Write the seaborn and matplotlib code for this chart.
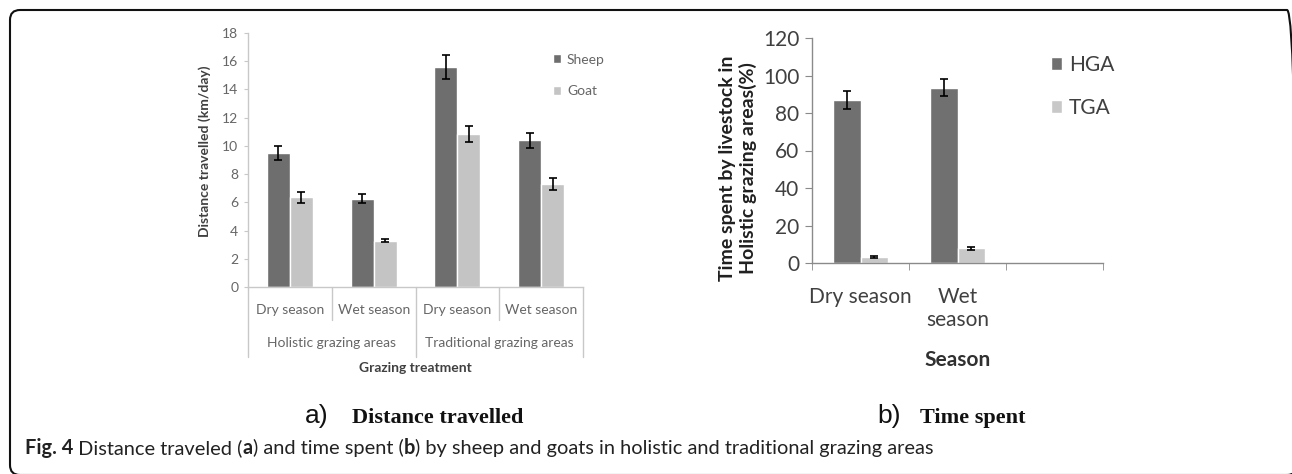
import pandas as pd
import matplotlib
matplotlib.use("Agg")
import matplotlib.pyplot as plt
from matplotlib.patches import FancyBboxPatch
from matplotlib.transforms import IdentityTransform
import seaborn as sns

# panel a data: distance travelled (km/day)
cells_a = ["HGA dry", "HGA wet", "TGA dry", "TGA wet"]
season_labels_a = ["Dry season", "Wet season", "Dry season", "Wet season"]
area_labels_a = ["Holistic grazing areas", "Traditional grazing areas"]
sheep_km = [9.5, 6.25, 15.6, 10.4]
sheep_err = [0.52, 0.32, 0.85, 0.53]
goat_km = [6.36, 3.28, 10.85, 7.3]
goat_err = [0.39, 0.12, 0.55, 0.4]

# panel b data: time spent (%)
seasons_b = ["Dry season", "Wet\nseason"]
hga_pct = [87, 93.5]
hga_err = [4.7, 4.6]
tga_pct = [3.4, 7.8]
tga_err = [0.6, 0.8]

sns.set_style("ticks")
plt.rcParams["font.family"] = ["Lato", "DejaVu Sans"]

W, H = 1292, 474
fig = plt.figure(figsize=(W / 100, H / 100), dpi=100)
fig.patch.set_facecolor("white")


def add_errbars(ax, errs_list):
    for cont, errs in zip(ax.containers, errs_list):
        xs = [b.get_x() + b.get_width() / 2 for b in cont]
        ys = [b.get_height() for b in cont]
        ax.errorbar(xs, ys, yerr=errs, fmt="none", ecolor="black",
                    elinewidth=1.2, capsize=3, capthick=1.2)


# ---------------- panel a ----------------
ax1 = fig.add_axes([248 / W, 1 - 287 / H, (583 - 248) / W, (287 - 33) / H])
df_a = pd.DataFrame({
    "cell": cells_a * 2,
    "km": sheep_km + goat_km,
    "animal": ["Sheep"] * 4 + ["Goat"] * 4,
})
sns.barplot(data=df_a, x="cell", y="km", hue="animal", order=cells_a,
            hue_order=["Sheep", "Goat"], palette=["#6e6e6e", "#c4c4c4"],
            width=0.55, saturation=1, errorbar=None, ax=ax1)
add_errbars(ax1, [sheep_err, goat_err])

ax1.set_xlim(-0.5, 3.5)
ax1.set_ylim(0, 18)
ax1.set_yticks(range(0, 19, 2))
sns.despine(ax=ax1)
for s in ["left", "bottom"]:
    ax1.spines[s].set_color("#c8c8c8")
    ax1.spines[s].set_linewidth(1)
ax1.tick_params(axis="y", length=3, color="#c8c8c8", labelsize=10,
                labelcolor="#666666", pad=4)
ax1.set_xticks(range(4))
ax1.set_xticklabels(season_labels_a)
ax1.tick_params(axis="x", length=0, labelsize=10, labelcolor="#666666", pad=12)

xt = ax1.get_xaxis_transform()
for x in [0.5, 2.5]:
    ax1.plot([x, x], [0, -0.13], transform=xt, color="#c8c8c8", lw=1, clip_on=False)
for x in [-0.5, 1.5, 3.5]:
    ax1.plot([x, x], [0, -0.276], transform=xt, color="#c8c8c8", lw=1, clip_on=False)
for x, lab in zip([0.5, 2.5], area_labels_a):
    ax1.text(x, -0.22, lab, transform=xt, ha="center", va="center",
             fontsize=10, color="#666666")

ax1.set_xlabel("Grazing treatment", fontsize=10, fontweight="bold", color="#404040")
ax1.xaxis.set_label_coords(0.5, -0.295)
ax1.set_ylabel("Distance travelled (km/day)", fontsize=10, fontweight="bold",
               color="#404040")
ax1.yaxis.set_label_coords(-0.11, 0.533)

ax1.legend(loc="center left", bbox_to_anchor=(553 / W, 1 - 75.5 / H),
           bbox_transform=fig.transFigure, frameon=False, fontsize=10,
           handlelength=0.6, handleheight=0.6, handletextpad=0.4,
           labelspacing=1.4, borderpad=0, borderaxespad=0, labelcolor="#666666")

# ---------------- panel b ----------------
ax2 = fig.add_axes([812 / W, 1 - 263 / H, (1103 - 812) / W, (263 - 38) / H])
df_b = pd.DataFrame({
    "season": seasons_b * 2,
    "pct": hga_pct + tga_pct,
    "area": ["HGA"] * 2 + ["TGA"] * 2,
})
sns.barplot(data=df_b, x="season", y="pct", hue="area", order=seasons_b,
            hue_order=["HGA", "TGA"], palette=["#707070", "#c8c8c8"],
            width=0.57, saturation=1, errorbar=None, ax=ax2)
add_errbars(ax2, [hga_err, tga_err])

ax2.set_xlim(-0.5, 2.5)
ax2.set_ylim(0, 120)
ax2.set_yticks(range(0, 121, 20))
sns.despine(ax=ax2)
for s in ["left", "bottom"]:
    ax2.spines[s].set_color("#8a8a8a")
    ax2.spines[s].set_linewidth(1)
ax2.tick_params(axis="y", length=5, color="#8a8a8a", labelsize=15,
                labelcolor="#404040", pad=4)
ax2.set_xticks([0, 1])
ax2.set_xticklabels(seasons_b)
ax2.set_xticks([-0.5, 0.5, 1.5, 2.5], minor=True)
ax2.tick_params(axis="x", which="major", length=0, labelsize=15,
                labelcolor="#404040", pad=17)
ax2.tick_params(axis="x", which="minor", length=5, color="#8a8a8a")

ax2.set_xlabel("Season", fontsize=15, fontweight="bold", color="#303030")
ax2.xaxis.set_label_coords(0.5, -0.385)
ax2.set_ylabel("Time spent by livestock in\nHolistic grazing areas(%)",
               fontsize=14, fontweight="bold", color="#202020", linespacing=1.2)
ax2.yaxis.set_label_coords(-0.19, 0.42)

ax2.legend(loc="center left", bbox_to_anchor=(1051 / W, 1 - 86.5 / H),
           bbox_transform=fig.transFigure, frameon=False, fontsize=15,
           handlelength=0.55, handleheight=0.55, handletextpad=0.3,
           labelspacing=1.1, borderpad=0, borderaxespad=0, labelcolor="#404040")

# ---------------- panel titles ----------------
serif = ["Liberation Serif", "DejaVu Serif"]
fig.text(305 / W, 1 - 423 / H, "a)", fontsize=19, family="Liberation Sans",
         va="baseline", color="#111111")
fig.text(352 / W, 1 - 423 / H, "Distance travelled", fontsize=16, family=serif,
         fontweight="bold", va="baseline", color="#111111")
fig.text(877 / W, 1 - 423 / H, "b)", fontsize=19, family="Liberation Sans",
         va="baseline", color="#111111")
fig.text(920 / W, 1 - 423 / H, "Time spent", fontsize=16, family=serif,
         fontweight="bold", va="baseline", color="#111111")

# ---------------- caption ----------------
caption = [
    ("Fig. 4", "bold"),
    (" Distance traveled (", "normal"),
    ("a", "bold"),
    (") and time spent (", "normal"),
    ("b", "bold"),
    (") by sheep and goats in holistic and traditional grazing areas", "normal"),
]
renderer = fig.canvas.get_renderer()
x = 25
for txt, wt in caption:
    t = fig.text(x / W, 1 - 454 / H, txt, fontsize=14.4, fontweight=wt,
                 va="baseline", color="#222222")
    x += t.get_window_extent(renderer=renderer).width

# ---------------- rounded frame ----------------
frame = FancyBboxPatch((10, -1), 1287, 465, boxstyle="round,pad=0,rounding_size=10",
                       transform=IdentityTransform(), fill=False, edgecolor="#111111",
                       linewidth=1.5)
fig.patches.append(frame)

fig.savefig("out.png", dpi=100)
